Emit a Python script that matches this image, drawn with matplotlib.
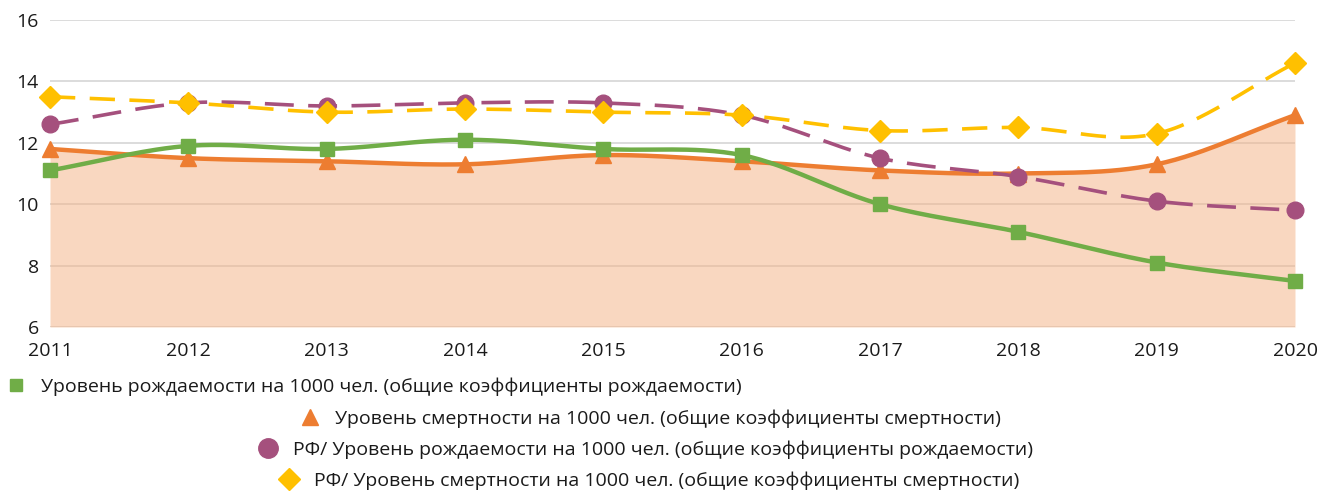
import numpy as np
import matplotlib
matplotlib.use("Agg")
import matplotlib.pyplot as plt
from matplotlib.lines import Line2D

plt.rcParams['font.family'] = ['Open Sans', 'DejaVu Sans']

years = [2011, 2012, 2013, 2014, 2015, 2016, 2017, 2018, 2019, 2020]
births = [11.1, 11.9, 11.8, 12.1, 11.8, 11.6, 10.0, 9.1, 8.1, 7.5]
deaths = [11.8, 11.5, 11.4, 11.3, 11.6, 11.4, 11.1, 11.0, 11.3, 12.9]
rf_births = [12.6, 13.3, 13.2, 13.3, 13.3, 12.9, 11.5, 10.9, 10.1, 9.8]
rf_deaths = [13.5, 13.3, 13.0, 13.1, 13.0, 12.9, 12.4, 12.5, 12.3, 14.6]

labels = [
    "Уровень рождаемости на 1000 чел. (общие коэффициенты рождаемости)",
    "Уровень смертности на 1000 чел. (общие коэффициенты смертности)",
    "РФ/ Уровень рождаемости на 1000 чел. (общие коэффициенты рождаемости)",
    "РФ/ Уровень смертности на 1000 чел. (общие коэффициенты смертности)",
]

GREEN = '#70AD47'
ORANGE = '#ED7D31'
PURPLE = '#A5507D'
YELLOW = '#FFC000'


def smooth(x, y, n=30):
    """Bezier smoothing through the given points (like Excel's 'smoothed line')."""
    x = np.asarray(x, float)
    y = np.asarray(y, float)
    px = np.concatenate([[2 * x[0] - x[1]], x, [2 * x[-1] - x[-2]]])
    py = np.concatenate([[2 * y[0] - y[1]], y, [2 * y[-1] - y[-2]]])
    xs, ys = [], []
    t = np.linspace(0, 1, n, endpoint=False)
    for i in range(1, len(px) - 2):
        p0, p1, p2, p3 = py[i - 1], py[i], py[i + 1], py[i + 2]
        q0, q1, q2, q3 = px[i - 1], px[i], px[i + 1], px[i + 2]
        c1y = p1 + (p2 - p0) / 6
        c2y = p2 - (p3 - p1) / 6
        c1x = q1 + (q2 - q0) / 6
        c2x = q2 - (q3 - q1) / 6
        bx = (1 - t) ** 3 * q1 + 3 * (1 - t) ** 2 * t * c1x + 3 * (1 - t) * t ** 2 * c2x + t ** 3 * q2
        by = (1 - t) ** 3 * p1 + 3 * (1 - t) ** 2 * t * c1y + 3 * (1 - t) * t ** 2 * c2y + t ** 3 * p2
        xs.append(bx)
        ys.append(by)
    xs.append([x[-1]])
    ys.append([y[-1]])
    return np.concatenate(xs), np.concatenate(ys)


fig = plt.figure(figsize=(13.19, 4.91), dpi=100)
ax = fig.add_axes([50 / 1319, 1 - 327 / 491, (1295 - 50) / 1319, (327 - 20) / 491])

ax.set_xlim(2011, 2020)
ax.set_ylim(6, 16)
ax.set_yticks([6, 8, 10, 12, 14, 16])
ax.set_xticks(years)
ax.yaxis.grid(True, color='#D9D9D9', linewidth=1.3)
ax.set_axisbelow(True)
for s in ax.spines.values():
    s.set_visible(False)
ax.tick_params(axis='both', length=0, labelsize=14, colors='#1a1a1a')
ax.tick_params(axis='x', pad=11)
ax.tick_params(axis='y', pad=8)

# Area for deaths
sx, sy = smooth(years, deaths)
ax.fill_between(sx, 6, sy, color='#F4B183', alpha=0.5, linewidth=0, zorder=2)
ax.plot(sx, sy, color=ORANGE, lw=3.2, zorder=4, solid_capstyle='round')
ax.plot(years, deaths, linestyle='none', marker='^', ms=11, color=ORANGE, zorder=5, clip_on=False)

# Births
sx, sy = smooth(years, births)
ax.plot(sx, sy, color=GREEN, lw=3.2, zorder=4)
ax.plot(years, births, linestyle='none', marker='s', ms=10, color=GREEN, zorder=5, clip_on=False)

# RF births
sx, sy = smooth(years, rf_births)
ax.plot(sx, sy, color=PURPLE, lw=2.6, dashes=(8, 4), zorder=4)
ax.plot(years, rf_births, linestyle='none', marker='o', ms=12, color=PURPLE, zorder=5, clip_on=False)

# RF deaths
sx, sy = smooth(years, rf_deaths)
ax.plot(sx, sy, color=YELLOW, lw=2.6, dashes=(7, 4), zorder=4)
ax.plot(years, rf_deaths, linestyle='none', marker='D', ms=11, color=YELLOW, zorder=6, clip_on=False)

# Legend entries (staggered, as in the reference)
entries = [
    (labels[0], 's', GREEN, 9, 16, 387),
    (labels[1], '^', ORANGE, 12, 310, 419),
    (labels[2], 'o', PURPLE, 14, 268, 450),
    (labels[3], 'D', YELLOW, 11, 289, 481),
]
for text, mk, col, ms, mx, my in entries:
    h = Line2D([], [], linestyle='none', marker=mk, color=col, markersize=ms)
    fig.legend([h], [text], loc='center left',
               bbox_to_anchor=((mx - 9) / 1319, 1 - my / 491),
               frameon=False, fontsize=14, handlelength=0.9,
               handletextpad=0.85, borderpad=0, borderaxespad=0,
               labelcolor='#1a1a1a')

fig.savefig('out.png', dpi=100)
